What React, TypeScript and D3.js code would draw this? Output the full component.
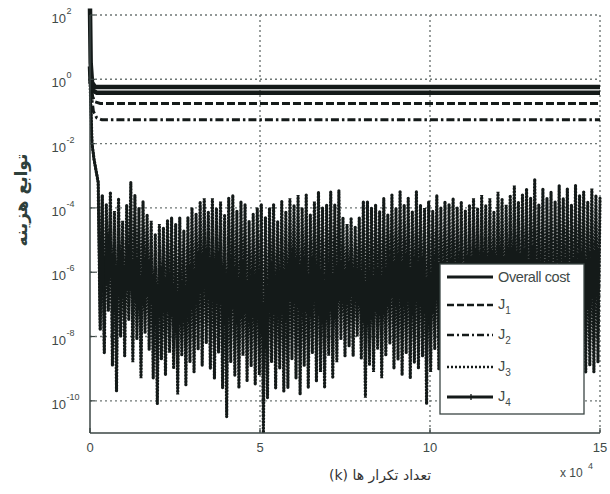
import React from "react";
import * as d3 from "d3";

// ---------- data ----------
const X_TICKS = [0, 50000, 100000, 150000];
const X_TICK_LABELS = ["0", "5", "10", "15"];
const Y_TICK_EXP = [2, 0, -2, -4, -6, -8, -10];

// smooth costs: [iteration, log10(value)]
const OVERALL_X = [0, 200, 600, 1500, 150000];
const OVERALL_E = [2.2, 0.5, -0.1, -0.24, -0.24];
const J1_X = [0, 300, 800, 1500, 3000, 150000];
const J1_E = [0.3, -0.2, -0.55, -0.7, -0.75, -0.75];
const J2_X = [0, 400, 1000, 2000, 3500, 150000];
const J2_E = [0.2, -0.5, -1.0, -1.2, -1.26, -1.26];
const J4_X = [0, 200, 800, 2000, 150000];
const J4_E = [0.4, -0.1, -0.35, -0.42, -0.42];

// J3: sampled every J3_STEP iterations, log10(value)
const J3_STEP = 600;
const J3_E = [
  0, -2.0, -2.5, -2.85, -3.2,
  -7.8, -3.6, -8.5, -3.9, -7.2,
  -3.5, -8.9, -4.1, -9.7, -3.7, -8.0, -4.4, -8.6,
  -3.9, -7.5, -3.2, -8.8, -3.6,
  -8.1, -4.0, -9.3, -3.8, -7.9, -4.2, -8.4,
  -4.4, -9.3, -4.8, -10.1, -4.5, -8.7, -4.6, -9.2, -4.4, -8.5,
  -4.3, -9.0, -4.5, -9.8, -4.3, -8.6, -4.7, -9.5, -4.3, -8.8,
  -4.0, -9.1, -4.2, -8.4, -3.8, -8.9, -3.7, -8.2, -4.1, -9.0,
  -3.7, -9.3, -4.0, -8.5, -3.8, -9.6, -4.2, -10.5, -3.7, -8.8, -3.6, -9.2, -4.1, -9.6, -3.8, -8.6, -3.9, -9.4, -4.4, -8.9, -4.2, -9.5,
  -4.0, -9.2, -3.9, -11.0, -4.3, -9.9, -4.0, -8.8, -3.9, -9.6, -4.4, -9.0, -3.8, -9.7, -4.1,
  -9.6, -3.7, -8.7, -3.9, -9.3, -3.6, -9.8, -4.0, -8.9, -3.6, -9.6, -4.2, -8.5, -3.8, -9.4, -3.5, -9.1, -4.0, -9.6, -3.9, -8.6, -3.5, -9.3, -3.9, -8.8, -3.45,
  -8.1, -4.3, -8.6, -4.5, -8.3, -4.3, -8.6, -4.6, -8.0, -4.3, -8.7, -3.8, -9.9,
  -3.8, -8.9, -4.0, -9.1, -3.9, -8.4, -4.1, -9.3, -3.7, -8.6, -4.2, -8.2, -3.6, -9.0, -4.0, -8.7, -3.5, -9.2, -3.9, -8.5, -3.7, -9.3, -4.1, -8.8, -3.5, -9.0, -3.9, -8.6, -4.0, -10.1, -3.8, -9.1, -4.1, -8.4, -3.6, -9.0, -4.0,
  -8.8, -3.8, -9.2, -3.9, -8.6, -3.7, -9.0, -4.0, -8.5, -3.8, -9.3, -4.1, -8.7, -3.9, -9.1, -3.7, -8.4, -4.0, -9.0, -3.6, -8.8, -3.9, -9.2, -3.7, -8.6, -4.1, -9.1, -3.5, -8.7, -3.7, -9.3, -3.9, -8.4, -3.6, -9.0, -3.3, -8.8, -3.8, -9.1, -3.6, -8.6, -3.4, -9.2, -3.7, -8.5, -3.1, -9.0, -3.9, -8.7, -3.4, -9.3, -3.7, -8.6, -3.5, -9.1, -3.8, -8.8, -3.3, -9.0, -3.7, -8.5, -3.4, -9.2, -3.9, -8.7, -3.3, -9.0, -3.6, -8.6, -3.5, -9.1, -3.8, -8.9, -3.4, -9.1, -3.6, -8.8, -3.7,
];

const LEGEND_LABELS = ["Overall cost", "J1", "J2", "J3", "J4"];

// ---------- layout ----------
const W = 610, H = 494;
const L = 90, R = 600, T = 15, B = 433;
const AX = "#3b4644";
const TXT = "#3f4a48";
const INK = "#141a19";

export default function App() {
  const x = d3.scaleLinear().domain([0, 150000]).range([L, R]);
  const y = d3.scaleLog().domain([1e-11, 1e2]).range([B, T]);
  const line = d3
    .line<[number, number]>()
    .x((d) => x(d[0]))
    .y((d) => y(Math.pow(10, d[1])));

  const pts = (xs: number[], es: number[]) => xs.map((v, i) => [v, es[i]] as [number, number]);
  const j3 = J3_E.map((e, i) => [i * J3_STEP, e] as [number, number]);

  const font = "'Liberation Sans', Arial, sans-serif";

  const legendY = [277, 305, 335, 367, 397];
  const legendStyles = [
    { w: 3.2, dash: "" },
    { w: 2.6, dash: "7,3" },
    { w: 2.6, dash: "7,3,2,3" },
    { w: 2.4, dash: "2,2" },
    { w: 3.2, dash: "" },
  ];

  return (
    <svg width={W} height={H} style={{ position: "absolute", left: 0, top: 0, background: "#fff" }} fontFamily={font}>
      <rect x={0} y={0} width={W} height={H} fill="#fff" />
      <defs>
        <clipPath id="plot">
          <rect x={L - 3} y={0} width={R - L + 5} height={B} />
        </clipPath>
      </defs>

      {/* grid */}
      {Y_TICK_EXP.map((e) => (
        <line key={"gy" + e} x1={L} x2={R} y1={y(Math.pow(10, e))} y2={y(Math.pow(10, e))}
          stroke="#6f7775" strokeWidth={1.4} strokeDasharray="2,3" />
      ))}
      {X_TICKS.slice(1).map((t) => (
        <line key={"gx" + t} x1={x(t)} x2={x(t)} y1={T} y2={B}
          stroke="#6f7775" strokeWidth={1.4} strokeDasharray="2,3" />
      ))}

      {/* data */}
      <g clipPath="url(#plot)" fill="none">
        <path d={line(j3) || ""} stroke={INK} strokeWidth={3.2} strokeDasharray="0.6,2.6" strokeLinecap="round" />
        <path d={line(j3.slice(0, 8)) || ""} stroke={INK} strokeWidth={2.5} />
        <path d={line(pts(J2_X, J2_E)) || ""} stroke={INK} strokeWidth={3} strokeDasharray="8,3,2.5,3" />
        <path d={line(pts(J1_X, J1_E)) || ""} stroke={INK} strokeWidth={3} strokeDasharray="8,3" />
        <path d={line(pts(J4_X, J4_E)) || ""} stroke={INK} strokeWidth={4.5} />
        <path d={line(pts(OVERALL_X, OVERALL_E)) || ""} stroke={INK} strokeWidth={4.5} />
      </g>

      {/* axes */}
      <line x1={L} x2={L} y1={T} y2={B} stroke={AX} strokeWidth={1.5} />
      <line x1={L} x2={R} y1={B} y2={B} stroke={AX} strokeWidth={1.5} />
      {Y_TICK_EXP.map((e) => (
        <line key={"ty" + e} x1={L} x2={L + 5} y1={y(Math.pow(10, e))} y2={y(Math.pow(10, e))} stroke={AX} strokeWidth={1.2} />
      ))}
      {X_TICKS.map((t) => (
        <line key={"tx" + t} x1={x(t)} x2={x(t)} y1={B} y2={B - 5} stroke={AX} strokeWidth={1.2} />
      ))}

      {/* y tick labels */}
      {Y_TICK_EXP.map((e) => {
        const yy = y(Math.pow(10, e));
        return (
          <g key={"yl" + e} fill={TXT}>
            <text x={66} y={yy + 8} textAnchor="end" fontSize={13}>10</text>
            <text x={66.5} y={yy - 1} fontSize={9}>{e}</text>
          </g>
        );
      })}

      {/* x tick labels */}
      {X_TICKS.map((t, i) => (
        <text key={"xl" + t} x={x(t)} y={452} textAnchor="middle" fontSize={13} fill={TXT}>
          {X_TICK_LABELS[i]}
        </text>
      ))}
      <text x={560} y={477} fontSize={12} fill={TXT}>x 10</text>
      <text x={588} y={469} fontSize={9} fill={TXT}>4</text>

      {/* axis labels */}
      <text x={380} y={480} textAnchor="middle" fontSize={14} fill="#333"
        fontFamily="'DejaVu Sans', sans-serif" direction="rtl">تعداد تکرار ها (k)</text>
      <text transform="translate(27,200) rotate(-90)" textAnchor="middle" fontSize={17} fontWeight="bold"
        fill="#2e403b" fontFamily="'DejaVu Sans', sans-serif" direction="rtl">توابع هزینه</text>

      {/* legend */}
      <rect x={440} y={264} width={144} height={150} fill="#fff" stroke={AX} strokeWidth={1.3} />
      {LEGEND_LABELS.map((lab, i) => {
        const yy = legendY[i];
        const s = legendStyles[i];
        return (
          <g key={"lg" + i}>
            <line x1={447} x2={493} y1={yy} y2={yy} stroke={INK} strokeWidth={s.w} strokeDasharray={s.dash || undefined} />
            {i === 4 && <line x1={471} x2={471} y1={yy - 3} y2={yy + 3} stroke={INK} strokeWidth={1.3} />}
            {i === 0 ? (
              <text x={498} y={yy + 5} fontSize={14.5} letterSpacing={-0.4} fill={TXT}>{lab}</text>
            ) : (
              <text x={498} y={yy + 4} fontSize={14.5} fill={TXT}>
                {lab[0]}
                <tspan fontSize={10} dy={5}>{lab.slice(1)}</tspan>
              </text>
            )}
          </g>
        );
      })}
    </svg>
  );
}
